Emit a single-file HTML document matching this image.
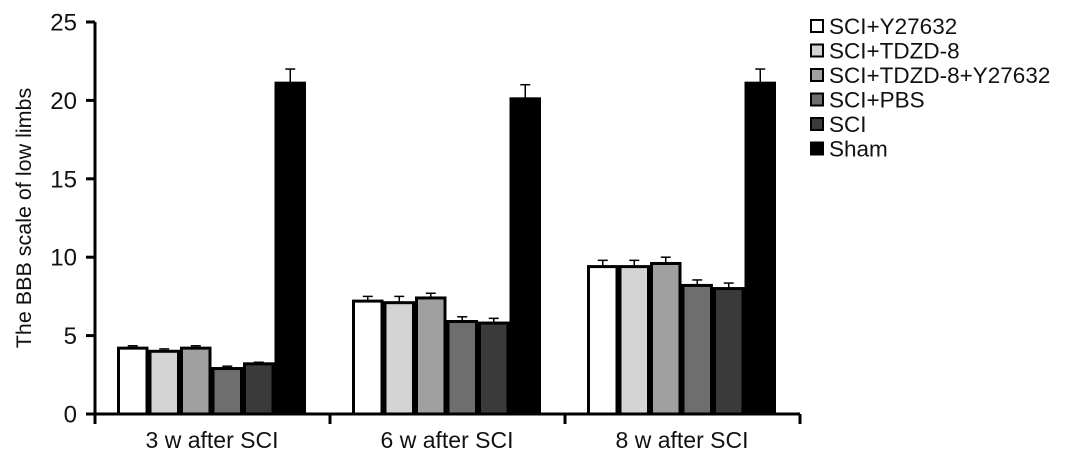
<!DOCTYPE html>
<html><head><meta charset="utf-8"><style>
body{margin:0;background:#fff;}
svg text{font-family:"Liberation Sans",Arial,sans-serif;fill:#111;}
</style></head><body>
<svg id="c" width="1087" height="460" xmlns="http://www.w3.org/2000/svg"></svg>
<script>
const groups=["3 w after SCI","6 w after SCI","8 w after SCI"];
const seriesNames=["SCI+Y27632","SCI+TDZD-8","SCI+TDZD-8+Y27632","SCI+PBS","SCI","Sham"];
const sY27632=[4.2,7.2,9.4];
const sTDZD=[4.0,7.1,9.4];
const sCombo=[4.2,7.4,9.6];
const sPBS=[2.9,5.9,8.2];
const sSCI=[3.2,5.8,8.0];
const sSham=[21.1,20.1,21.1];
const eY27632=[0.15,0.3,0.4];
const eTDZD=[0.15,0.4,0.4];
const eCombo=[0.15,0.3,0.4];
const ePBS=[0.15,0.3,0.35];
const eSCI=[0.1,0.3,0.35];
const eSham=[0.9,0.9,0.9];
const yTicks=[0,5,10,15,20,25];
const colors=["#ffffff","#d4d4d4","#a0a0a0","#6e6e6e","#3a3a3a","#000000"];
const vals=[sY27632,sTDZD,sCombo,sPBS,sSCI,sSham];
const errs=[eY27632,eTDZD,eCombo,ePBS,eSCI,eSham];
const svg=document.getElementById('c');const NS="http://www.w3.org/2000/svg";
function mk(t,a,p){const e=document.createElementNS(NS,t);for(const k in a)e.setAttribute(k,a[k]);(p||svg).appendChild(e);return e;}
const y=v=>414-v*15.68;
const gx=i=>95+i*235;
const bx=(g,s)=>gx(g)+22+s*31.5;
for(let s=0;s<6;s++)for(let g=0;g<3;g++){
 const v=vals[s][g],e=errs[s][g],x=bx(g,s),w=31.5;
 const er=mk('line',{x1:x+w/2,x2:x+w/2,y1:y(v),y2:y(v+e),stroke:'#000','stroke-width':1.5});
 
 
 const cap=mk('line',{x1:x+w/2-5,x2:x+w/2+5,y1:y(v+e),y2:y(v+e),stroke:'#000','stroke-width':1.5});
 
 
 const r=mk('rect',{x:x+1.5,y:y(v),width:w-3,height:414-y(v),fill:colors[s],stroke:'#000','stroke-width':3});
 
 
}
const ya=mk('line',{x1:95,x2:95,y1:22,y2:416,stroke:'#000','stroke-width':3});


const xa=mk('line',{x1:93,x2:800,y1:414,y2:414,stroke:'#000','stroke-width':3});


yTicks.forEach(t=>{
 const l=mk('line',{x1:86,x2:95,y1:y(t),y2:y(t),stroke:'#000','stroke-width':3});
 
 
 const tx=mk('text',{x:77,y:y(t)+8.5,'text-anchor':'end','font-size':24});tx.textContent=t;
 
 
});
for(let i=0;i<=3;i++){
 const l=mk('line',{x1:gx(i),x2:gx(i),y1:414,y2:424,stroke:'#000','stroke-width':3});
 
 
}
groups.forEach((g,i)=>{
 const tx=mk('text',{x:gx(i)+117,y:448,'text-anchor':'middle','font-size':23});tx.textContent=g;
 
 
});
const yt=mk('text',{x:0,y:0,'text-anchor':'middle','font-size':21.5,transform:'translate(31,218) rotate(-90)'});yt.textContent="The BBB scale of low limbs";


seriesNames.forEach((n,i)=>{
 const cy=26+i*24.5;
 const r=mk('rect',{x:811,y:cy-6,width:12,height:12,fill:colors[i],stroke:'#000','stroke-width':2});
 
 
 const tx=mk('text',{x:829,y:cy+8,'font-size':22.5});tx.textContent=n;
 
 
});
</script>
</body></html>
